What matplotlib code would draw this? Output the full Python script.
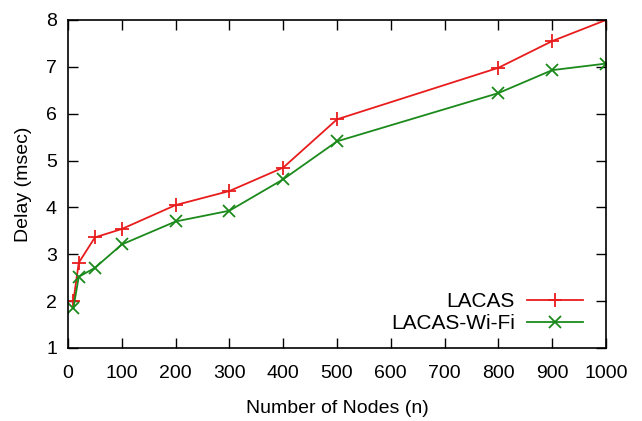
import matplotlib
matplotlib.use('Agg')
import matplotlib.pyplot as plt

plt.rcParams['font.family'] = ['Liberation Sans', 'DejaVu Sans']

nodes = [10, 20, 50, 100, 200, 300, 400, 500, 800, 900, 1000]
lacas = [2.0, 2.82, 3.36, 3.54, 4.05, 4.35, 4.85, 5.88, 6.98, 7.55, 8.0]
lacas_wifi = [1.85, 2.52, 2.71, 3.21, 3.70, 3.93, 4.60, 5.41, 6.44, 6.93, 7.07]

fig = plt.figure(figsize=(6.42, 4.21), dpi=100)
ax = fig.add_axes([68/642, 1-348/421, 538/642, 328/421])

ax.plot(nodes, lacas, '-', color='#e81c1c', marker='+', markersize=10, markeredgewidth=1.3,
        linewidth=1.3, label='LACAS')
ax.plot(nodes, lacas_wifi, '-', color='#1b8a1b', marker='x', markersize=8, markeredgewidth=1.3,
        linewidth=1.3, label='LACAS-Wi-Fi')

ax.set_xlim(0, 1000)
ax.set_ylim(1, 8)
ax.set_xticks(range(0, 1001, 100))
ax.set_yticks(range(1, 9))
ax.tick_params(direction='in', length=7, width=1, top=True, right=True, labelsize=14)
ax.tick_params(axis='x', pad=12)
ax.tick_params(axis='y', pad=8)
for s in ax.spines.values():
    s.set_linewidth(1.2)

ax.set_xlabel('Number of Nodes (n)', fontsize=14, labelpad=13)
ax.set_ylabel('Delay (msec)', fontsize=14, labelpad=10)

ax.legend(loc='lower right', bbox_to_anchor=(515/538, 15/328), frameon=False,
          markerfirst=False, fontsize=15, handlelength=2.7, borderaxespad=0,
          borderpad=0, labelspacing=0.15, handletextpad=0.58)

fig.savefig('out.png', dpi=100)
